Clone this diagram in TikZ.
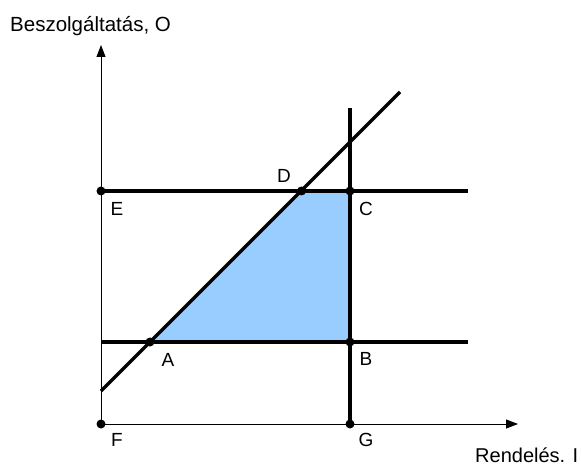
\documentclass[tikz,border=0pt]{standalone}
\usepackage{fontspec}
\setmainfont{Liberation Sans}
\usetikzlibrary{arrows.meta}
\definecolor{regionblue}{RGB}{153,204,255}
\tikzset{
  axisline/.style={line width=1pt,-{Triangle[length=12pt,width=9pt]}},
  thickline/.style={line width=3.5pt},
  dotpt/.style={circle,fill=black,inner sep=0pt,minimum size=9pt},
  ptlabel/.style={font=\fontsize{19}{22}\selectfont,inner sep=0pt},
  axislabel/.style={font=\fontsize{20.5}{24}\selectfont,inner sep=0pt},
}
\begin{document}
\begin{tikzpicture}[x=1pt,y=-1pt]
\useasboundingbox (0,0) rectangle (581,465);
% named points
\coordinate (O) at (101,424);
\coordinate (Ytip) at (101,45);
\coordinate (Xtip) at (518,424);
\coordinate (Eq) at (101,191);
\coordinate (Dq) at (301.5,191);
\coordinate (Cq) at (350,191);
\coordinate (Aq) at (150,342);
\coordinate (Bq) at (350,342);
\coordinate (Fq) at (101,424);
\coordinate (Gq) at (350,424);
\coordinate (Uend) at (468,191);
\coordinate (Lend) at (468,342);
\coordinate (Vtop) at (350,108);
\coordinate (DiagLow) at (101,391);
\coordinate (DiagHigh) at (400,92);
% shaded region
\fill[regionblue] (Aq) -- (Dq) -- (Cq) -- (Bq) -- cycle;
% axes
\draw[axisline] (O) -- (Ytip);
\draw[axisline] (O) -- (Xtip);
% thick lines
\draw[thickline] (Eq) -- (Uend);
\draw[thickline] (Eq |- Aq) -- (Lend);
\draw[thickline] (Gq) -- (Vtop);
\draw[thickline] (DiagLow) -- (DiagHigh);
% dots
\foreach \p in {Eq,Dq,Cq,Aq,Bq,Fq,Gq} \node[dotpt] at (\p) {};
% labels
\node[ptlabel] (E) at (117,209) {E};
\node[ptlabel] (D) at (284,176) {D};
\node[ptlabel] (C) at (366,209) {C};
\node[ptlabel] (A) at (168,360) {A};
\node[ptlabel] (B) at (366,359) {B};
\node[ptlabel] (F) at (117,440) {F};
\node[ptlabel] (G) at (366,440) {G};
\node[axislabel,anchor=base west] (ylab) at (10,32) {Beszolgáltatás, O};
\node[axislabel,anchor=base west,font=\fontsize{20}{24}\selectfont] (xlab) at (475,462) {Rendelés. I};
\end{tikzpicture}
\end{document}
